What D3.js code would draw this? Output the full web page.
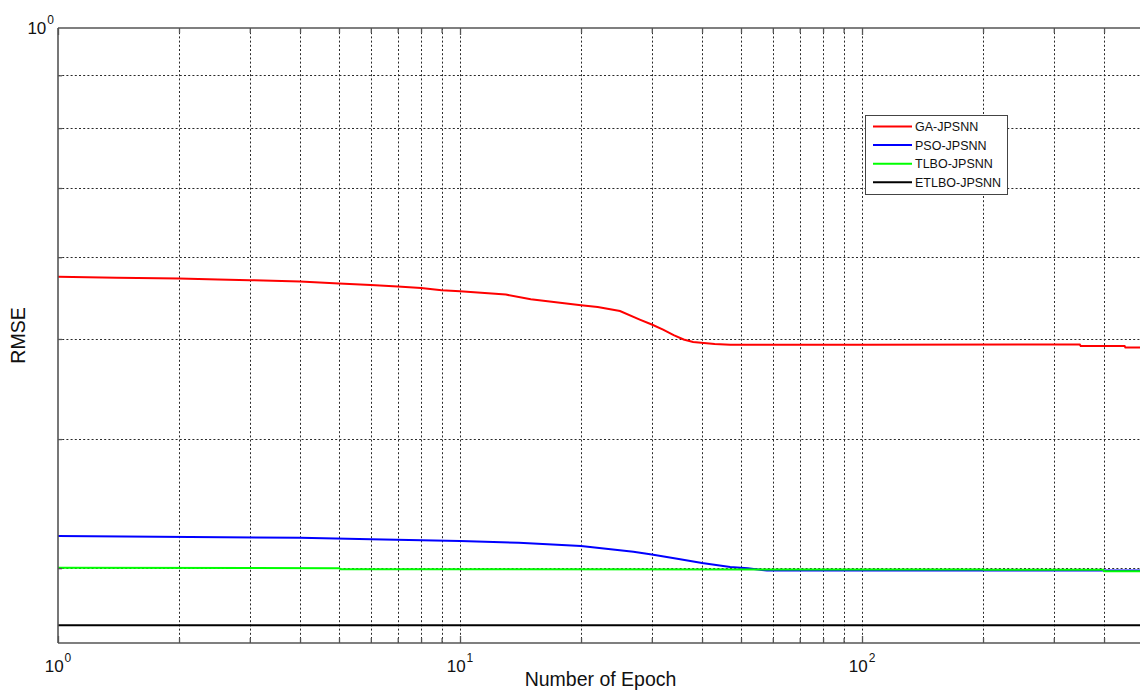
<!DOCTYPE html>
<html>
<head>
<meta charset="utf-8">
<script src="https://cdn.jsdelivr.net/npm/d3@7"></script>
<style>
  html, body { margin: 0; padding: 0; background: #fff; }
  svg { display: block; font-family: "Liberation Sans", Arial, sans-serif; }
</style>
</head>
<body>
<svg id="chart" width="1140" height="691"></svg>
<script>
// Convergence curves (RMSE vs. training epoch), log-log axes
const seriesNames = ["GA-JPSNN", "PSO-JPSNN", "TLBO-JPSNN", "ETLBO-JPSNN"];
const seriesColors = ["#ff0000", "#0000ff", "#00ff00", "#000000"];

const gaEpochs = [1, 1.4, 2, 2.5, 3, 4, 5, 6, 7, 8, 9, 10, 13, 15, 20, 22, 25, 28, 30, 32, 34, 36, 38, 43, 47, 100, 348, 350, 450, 452, 500];
const gaRmse   = [0.5743, 0.5730, 0.5722, 0.5709, 0.5700, 0.5683, 0.5658, 0.5640, 0.5620, 0.5602, 0.5574, 0.5561, 0.5520, 0.5463, 0.5391, 0.5369, 0.5321, 0.5221, 0.5164, 0.5105, 0.5043, 0.4994, 0.4966, 0.4943, 0.4935, 0.4937, 0.4939, 0.4921, 0.4921, 0.4906, 0.4906];

const psoEpochs = [1, 4, 6, 10, 14, 20, 27, 30, 35, 40, 47, 52, 58, 500];
const psoRmse   = [0.3222, 0.3210, 0.3200, 0.3188, 0.3174, 0.3151, 0.3111, 0.3093, 0.3062, 0.3034, 0.3007, 0.3000, 0.2984, 0.2984];

const tlboEpochs = [1, 5, 5.05, 200, 201, 398, 400, 500];
const tlboRmse   = [0.3002, 0.3000, 0.2993, 0.2991, 0.2989, 0.2989, 0.2979, 0.2979];

const etlboEpochs = [1, 500];
const etlboRmse   = [0.2641, 0.2641];

const xMajorTicks = [1, 10, 100];
const xMinorTicks = [2, 3, 4, 5, 6, 7, 8, 9, 20, 30, 40, 50, 60, 70, 80, 90, 200, 300, 400];
const yMajorTicks = [1];
const yMinorTicks = [0.3, 0.4, 0.5, 0.6, 0.7, 0.8, 0.9];

const xLabel = "Number of Epoch";
const yLabel = "RMSE";

const svg = d3.select("#chart");
const plot = { left: 58, top: 28, right: 1143, bottom: 643 };

const x = d3.scaleLog().domain([1, 500]).range([plot.left, plot.right]);
const y = d3.scaleLog().domain([0.2539, 1]).range([plot.bottom, plot.top]);

// Dotted grid
const grid = svg.append("g")
  .attr("stroke", "#2a2a2a")
  .attr("stroke-width", 1)
  .attr("stroke-dasharray", "2,2.2");
grid.selectAll("line.vx")
  .data(xMajorTicks.concat(xMinorTicks).filter(d => d > 1))
  .join("line")
  .attr("x1", d => Math.round(x(d)) + 0.5).attr("x2", d => Math.round(x(d)) + 0.5)
  .attr("y1", plot.top).attr("y2", plot.bottom);
grid.selectAll("line.hy")
  .data(yMinorTicks)
  .join("line")
  .attr("y1", d => Math.round(y(d)) + 0.5).attr("y2", d => Math.round(y(d)) + 0.5)
  .attr("x1", plot.left).attr("x2", plot.right);

// Series lines
const series = [
  { ex: gaEpochs, v: gaRmse },
  { ex: psoEpochs, v: psoRmse },
  { ex: tlboEpochs, v: tlboRmse },
  { ex: etlboEpochs, v: etlboRmse }
];
const line = d3.line().x(d => x(d[0])).y(d => y(d[1]));
svg.append("defs").append("clipPath").attr("id", "clip")
  .append("rect").attr("x", plot.left).attr("y", plot.top)
  .attr("width", plot.right - plot.left).attr("height", plot.bottom - plot.top);
const lines = svg.append("g").attr("clip-path", "url(#clip)");
series.forEach((s, i) => {
  lines.append("path")
    .datum(s.ex.map((e, k) => [e, s.v[k]]))
    .attr("fill", "none")
    .attr("stroke", seriesColors[i])
    .attr("stroke-width", 2)
    .attr("d", line);
});

// Axes (inside ticks, box)
const axisColor = "#555";
const bottomAxis = d3.axisBottom(x).tickValues(xMajorTicks.concat(xMinorTicks))
  .tickSizeInner(-1).tickSizeOuter(0).tickFormat("");
const axB = svg.append("g").attr("transform", `translate(0,${plot.bottom})`).call(bottomAxis);
axB.selectAll(".tick line").attr("y2", d => xMajorTicks.includes(d) ? -7 : -5);
const axT = svg.append("g").attr("transform", `translate(0,${plot.top})`)
  .call(d3.axisTop(x).tickValues(xMajorTicks.concat(xMinorTicks)).tickSizeOuter(0).tickFormat(""));
axT.selectAll(".tick line").attr("y2", d => xMajorTicks.includes(d) ? 7 : 5);
const axL = svg.append("g").attr("transform", `translate(${plot.left},0)`)
  .call(d3.axisLeft(y).tickValues(yMinorTicks).tickSizeOuter(0).tickFormat(""));
axL.selectAll(".tick line").attr("x2", 4);
[axB, axT, axL].forEach(a => {
  a.selectAll(".domain").remove();
  a.selectAll(".tick line").attr("stroke", axisColor).attr("stroke-width", 1.3);
});
const frame = svg.append("g").attr("stroke", axisColor).attr("stroke-width", 1.6).attr("fill", "none");
frame.append("line").attr("x1", plot.left).attr("x2", plot.right).attr("y1", plot.top).attr("y2", plot.top);
frame.append("line").attr("x1", plot.left).attr("x2", plot.right).attr("y1", plot.bottom).attr("y2", plot.bottom);
frame.append("line").attr("x1", plot.left).attr("x2", plot.left).attr("y1", plot.top).attr("y2", plot.bottom);
frame.append("line").attr("x1", plot.right).attr("x2", plot.right).attr("y1", plot.top).attr("y2", plot.bottom);

// Power-of-ten tick labels
function powerLabel(g, px, py, exp, anchor) {
  const t = g.append("text").attr("x", px).attr("y", py)
    .attr("font-size", 17).attr("fill", "#111").attr("text-anchor", anchor);
  t.append("tspan").text("10");
  t.append("tspan").attr("font-size", 12).attr("dy", -10).attr("dx", 1).text(exp);
}
const labels = svg.append("g");
xMajorTicks.forEach(d => powerLabel(labels, x(d), 672, Math.round(Math.log10(d)), "middle"));
yMajorTicks.forEach(d => powerLabel(labels, plot.left - 4, y(d) + 6, Math.round(Math.log10(d)), "end"));

svg.append("text")
  .attr("x", (plot.left + plot.right) / 2).attr("y", 686)
  .attr("text-anchor", "middle").attr("font-size", 19.5).attr("fill", "#111")
  .text(xLabel);
svg.append("text")
  .attr("transform", `translate(25,${(plot.top + plot.bottom) / 2}) rotate(-90)`)
  .attr("text-anchor", "middle").attr("font-size", 19.5).attr("fill", "#111")
  .text(yLabel);

// Legend
const legend = svg.append("g").attr("transform", "translate(865,115.5)");
legend.append("rect").attr("x", 0.5).attr("y", 0).attr("width", 142).attr("height", 79)
  .attr("fill", "#fff").attr("stroke", "#444").attr("stroke-width", 1);
seriesNames.forEach((name, i) => {
  const ry = 11 + i * 18.6;
  legend.append("line").attr("x1", 8).attr("x2", 47).attr("y1", ry).attr("y2", ry)
    .attr("stroke", seriesColors[i]).attr("stroke-width", 2);
  legend.append("text").attr("x", 50).attr("y", ry + 4.5)
    .attr("font-size", 12.5).attr("fill", "#111").text(name);
});
</script>
</body>
</html>
